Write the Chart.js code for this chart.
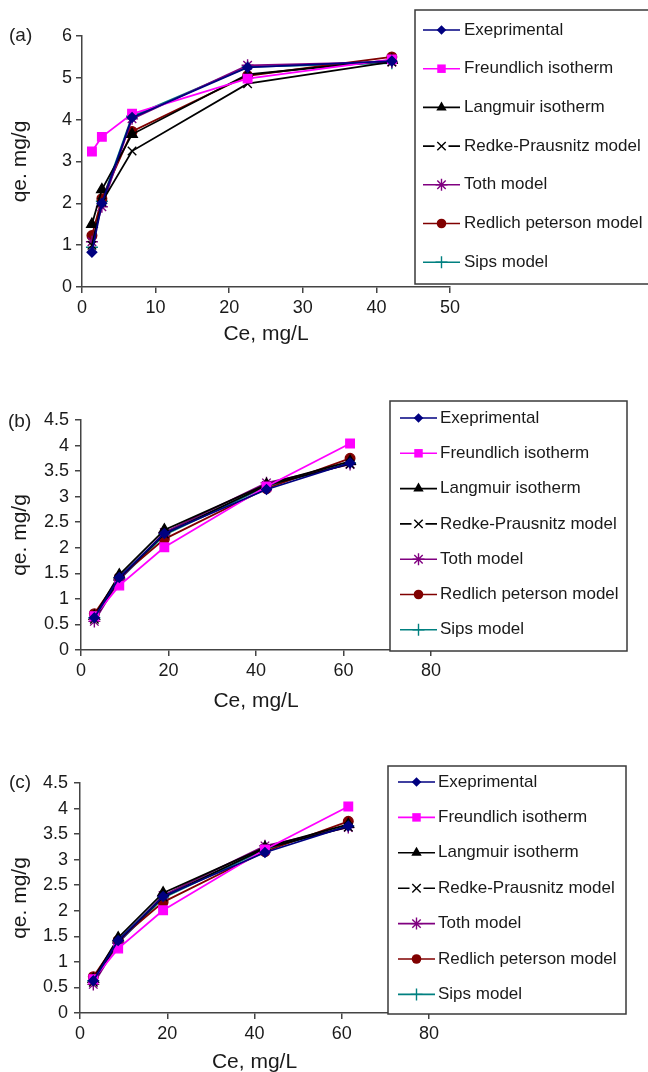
<!DOCTYPE html>
<html>
<head>
<meta charset="utf-8">
<script src="https://cdn.jsdelivr.net/npm/chart.js@4/dist/chart.umd.min.js"></script>
<style>
  html, body { margin: 0; padding: 0; background: #fff; overflow: hidden; }
  .panel { position: absolute; left: 0; width: 648px; height: 355px; }
</style>
</head>
<body>
<div class="panel" style="top:0px"><canvas id="chartA" width="648" height="355"></canvas></div>
<div class="panel" style="top:360px"><canvas id="chartB" width="648" height="355"></canvas></div>
<div class="panel" style="top:722px"><canvas id="chartC" width="648" height="355"></canvas></div>
<script>
// series names, shared by the three panels
const seriesNames = ['Exeprimental', 'Freundlich isotherm', 'Langmuir isotherm',
  'Redke-Prausnitz model', 'Toth model', 'Redlich peterson model', 'Sips model'];

// panel (a)
const ceA = [1.35, 2.7, 6.8, 22.5, 42.1];
const expA = [0.83, 2.0, 4.05, 5.25, 5.4];
const freA = [3.24, 3.59, 4.14, 4.98, 5.44];
const lanA = [1.5, 2.33, 3.65, 5.08, 5.42];
const rpA = [1.0, 2.03, 3.25, 4.86, 5.38];
const tothA = [1.08, 1.92, 4.02, 5.3, 5.38];
const redA = [1.23, 2.11, 3.72, 5.05, 5.5];
const sipsA = [0.95, 2.05, 4.08, 5.26, 5.35];

// panel (b) and (c) show the same values
const ceB = [3.05, 8.75, 19.05, 42.4, 61.5];
const expB = [0.63, 1.42, 2.28, 3.14, 3.66];
const freB = [0.66, 1.26, 2.01, 3.2, 4.04];
const lanB = [0.66, 1.47, 2.35, 3.24, 3.69];
const rpB = [0.6, 1.4, 2.27, 3.22, 3.64];
const tothB = [0.56, 1.37, 2.3, 3.27, 3.63];
const redB = [0.71, 1.42, 2.17, 3.16, 3.75];
const sipsB = [0.63, 1.37, 2.25, 3.2, 3.66];

const styles = [
  { color: '#000080', point: 'rectRot', r: 4.8 },
  { color: '#ff00ff', point: 'rect', r: 6 },
  { color: '#000000', point: 'triangle', r: 6 },
  { color: '#000000', point: 'crossRot', r: 6 },
  { color: '#800080', point: 'star', r: 6 },
  { color: '#800000', point: 'circle', r: 4.8 },
  { color: '#008080', point: 'cross', r: 6 }
];

const FONT = "'Liberation Sans', Arial, sans-serif";

function makeDatasets(xs, list) {
  return list.map((ys, i) => ({
    label: seriesNames[i],
    data: xs.map((x, j) => ({ x: x, y: ys[j] })),
    borderColor: styles[i].color,
    backgroundColor: styles[i].color,
    pointBackgroundColor: styles[i].color,
    pointBorderColor: styles[i].color,
    pointStyle: styles[i].point,
    pointRadius: styles[i].r,
    pointBorderWidth: 1.4,
    borderWidth: 1.8,
    tension: 0,
    fill: false
  }));
}

function drawMark(ctx, st, x, y) {
  const r = st.r;
  ctx.save();
  ctx.fillStyle = st.color;
  ctx.strokeStyle = st.color;
  ctx.lineWidth = 1.4;
  ctx.beginPath();
  if (st.point == 'rectRot') {
    ctx.moveTo(x, y - r); ctx.lineTo(x + r, y); ctx.lineTo(x, y + r); ctx.lineTo(x - r, y); ctx.closePath();
    ctx.fill();
  } else if (st.point == 'rect') {
    const s = r * Math.SQRT1_2;
    ctx.rect(x - s, y - s, 2 * s, 2 * s); ctx.fill();
  } else if (st.point == 'triangle') {
    const w = r * 0.866;
    ctx.moveTo(x, y - r); ctx.lineTo(x + w, y + r / 2); ctx.lineTo(x - w, y + r / 2); ctx.closePath();
    ctx.fill();
  } else if (st.point == 'circle') {
    ctx.arc(x, y, r, 0, Math.PI * 2); ctx.fill();
  } else if (st.point == 'crossRot') {
    const d = r * 0.7;
    ctx.moveTo(x - d, y - d); ctx.lineTo(x + d, y + d);
    ctx.moveTo(x + d, y - d); ctx.lineTo(x - d, y + d); ctx.stroke();
  } else if (st.point == 'cross') {
    ctx.moveTo(x, y - r); ctx.lineTo(x, y + r);
    ctx.moveTo(x - r, y); ctx.lineTo(x + r, y); ctx.stroke();
  } else if (st.point == 'star') {
    const d = r * 0.7;
    ctx.moveTo(x, y - r); ctx.lineTo(x, y + r);
    ctx.moveTo(x - r, y); ctx.lineTo(x + r, y);
    ctx.moveTo(x - d, y - d); ctx.lineTo(x + d, y + d);
    ctx.moveTo(x + d, y - d); ctx.lineTo(x - d, y + d); ctx.stroke();
  }
  ctx.restore();
}

// draws the "(a)" tag and the boxed legend on top of the plot
const overlayPlugin = {
  id: 'overlay',
  afterDraw(chart, args, o) {
    const ctx = chart.ctx;
    ctx.save();
    ctx.font = '19px ' + FONT;
    ctx.fillStyle = '#222';
    ctx.textAlign = 'left';
    ctx.textBaseline = 'middle';
    ctx.fillText(o.tag, o.tagX, o.tagY);

    const b = o.box;
    ctx.fillStyle = '#fff';
    ctx.fillRect(b.l, b.t, b.r - b.l, b.b - b.t);
    ctx.strokeStyle = '#3a3a3a';
    ctx.lineWidth = 1.5;
    ctx.strokeRect(b.l, b.t, b.r - b.l, b.b - b.t);

    chart.data.datasets.forEach((ds, i) => {
      const y = o.rowY + i * o.rowGap;
      const st = styles[i];
      const mx = (o.x1 + o.x2) / 2;
      ctx.strokeStyle = st.color;
      ctx.lineWidth = 1.6;
      ctx.beginPath();
      if (st.point == 'crossRot') {
        ctx.moveTo(o.x1, y); ctx.lineTo(mx - 7, y);
        ctx.moveTo(mx + 7, y); ctx.lineTo(o.x2, y);
      } else {
        ctx.moveTo(o.x1, y); ctx.lineTo(o.x2, y);
      }
      ctx.stroke();
      drawMark(ctx, st, mx, y);
      ctx.fillStyle = '#1a1a1a';
      ctx.font = '17px ' + FONT;
      ctx.fillText(ds.label, o.textX, y);
    });
    ctx.restore();
  }
};

function makeChart(id, xs, list, p) {
  return new Chart(document.getElementById(id), {
    type: 'line',
    data: { datasets: makeDatasets(xs, list) },
    options: {
      responsive: false,
      animation: false,
      devicePixelRatio: 1,
      layout: { padding: { left: 0, right: p.padRight, top: p.padTop, bottom: 0 } },
      plugins: {
        legend: { display: false },
        tooltip: { enabled: false },
        overlay: p.overlay
      },
      scales: {
        x: {
          type: 'linear',
          min: 0,
          max: p.xMax,
          afterFit: function(scale) { scale.height = p.xHeight; },
          ticks: { stepSize: p.xStep, color: '#1a1a1a', font: { family: FONT, size: 18 }, padding: 4, maxRotation: 0 },
          grid: { drawOnChartArea: false, drawTicks: true, tickLength: 6, color: '#444', lineWidth: 1.5 },
          border: { display: true, color: '#444', width: 1.5 },
          title: { display: true, text: 'Ce, mg/L', color: '#1a1a1a', font: { family: FONT, size: 21 }, padding: { top: 0, bottom: p.xTitlePad } }
        },
        y: {
          min: 0,
          max: p.yMax,
          afterFit: function(scale) { scale.width = p.yWidth; },
          ticks: { stepSize: p.yStep, color: '#1a1a1a', font: { family: FONT, size: 18 }, padding: p.yTickPad, callback: v => v },
          grid: { drawOnChartArea: false, drawTicks: true, tickLength: 6, color: '#444', lineWidth: 1.5 },
          border: { display: true, color: '#444', width: 1.5 },
          title: { display: true, text: 'qe. mg/g', color: '#1a1a1a', font: { family: FONT, size: 21 }, padding: { top: 8, bottom: 0 } }
        }
      }
    },
    plugins: [overlayPlugin]
  });
}

makeChart('chartA', ceA, [expA, freA, lanA, rpA, tothA, redA, sipsA], {
  padRight: 198, padTop: 36, xHeight: 68, xTitlePad: 8, yWidth: 82, yTickPad: 4,
  xMax: 50, xStep: 10, yMax: 6, yStep: 1,
  overlay: { tag: '(a)', tagX: 9, tagY: 36,
    box: { l: 415, t: 10, r: 652, b: 284 },
    rowY: 30, rowGap: 38.7, x1: 423, x2: 460, textX: 464 }
});

makeChart('chartB', ceB, [expB, freB, lanB, rpB, tothB, redB, sipsB], {
  padRight: 217, padTop: 60, xHeight: 65, xTitlePad: 1, yWidth: 81, yTickPad: 6,
  xMax: 80, xStep: 20, yMax: 4.5, yStep: 0.5,
  overlay: { tag: '(b)', tagX: 8, tagY: 62,
    box: { l: 390, t: 41, r: 627, b: 291 },
    rowY: 58, rowGap: 35.3, x1: 400, x2: 437, textX: 440 }
});

makeChart('chartC', ceB, [expB, freB, lanB, rpB, tothB, redB, sipsB], {
  padRight: 219, padTop: 61, xHeight: 64, xTitlePad: 2, yWidth: 80, yTickPad: 6,
  xMax: 80, xStep: 20, yMax: 4.5, yStep: 0.5,
  overlay: { tag: '(c)', tagX: 9, tagY: 61,
    box: { l: 388, t: 44, r: 626, b: 292 },
    rowY: 60, rowGap: 35.4, x1: 398, x2: 435, textX: 438 }
});
</script>
</body>
</html>
